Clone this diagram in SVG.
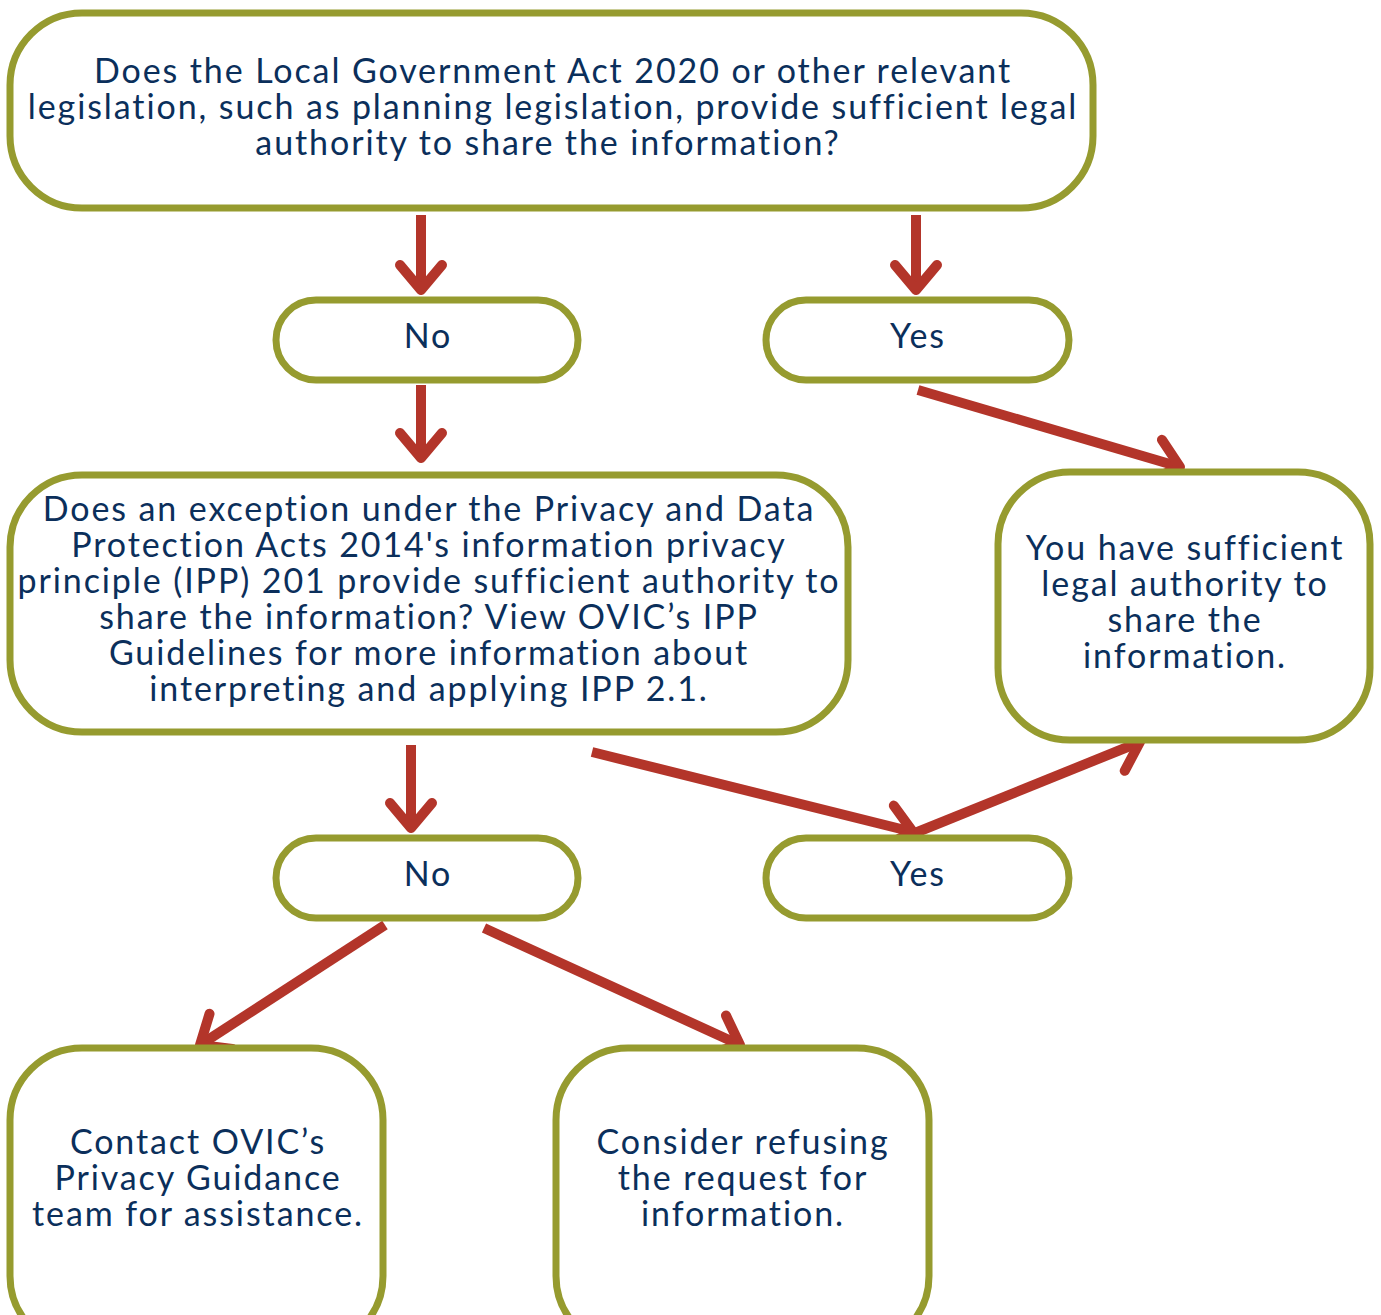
<svg xmlns="http://www.w3.org/2000/svg" width="1381" height="1315" viewBox="0 0 1381 1315">
<style>
.box{fill:#fff;stroke:#969B2F;stroke-width:7}
.t{font-family:Lato,"Noto Sans",sans-serif;font-size:34px;letter-spacing:1.9px;fill:#0B2F5B;text-anchor:middle}
.c{fill:none;stroke:#B3352A;stroke-width:10;stroke-linecap:butt}
</style>
<defs>
<marker id="ah" markerUnits="userSpaceOnUse" markerWidth="80" markerHeight="80" viewBox="-40 -40 80 80" refX="0" refY="0" orient="auto" overflow="visible">
<path d="M-25,-21 L0,0 L-25,21" fill="none" stroke="#B3352A" stroke-width="10" stroke-linecap="round" stroke-linejoin="round"/>
</marker>
</defs>
<rect width="1381" height="1315" fill="#fff"/>
<g id="connectors">
<line class="c" x1="421" y1="215" x2="421" y2="290" marker-end="url(#ah)"/>
<line class="c" x1="916" y1="215" x2="916" y2="290" marker-end="url(#ah)"/>
<line class="c" x1="421" y1="385" x2="421" y2="458" marker-end="url(#ah)"/>
<line class="c" x1="918" y1="390" x2="1180" y2="467" marker-end="url(#ah)"/>
<line class="c" x1="411" y1="745" x2="411" y2="828" marker-end="url(#ah)"/>
<line class="c" x1="592" y1="752" x2="913" y2="832" marker-end="url(#ah)"/>
<line class="c" x1="915" y1="833" x2="1140" y2="742" marker-end="url(#ah)"/>
<line class="c" x1="385" y1="925" x2="200" y2="1045" marker-end="url(#ah)"/>
<line class="c" x1="484" y1="928" x2="740" y2="1045" marker-end="url(#ah)"/>
</g>
<g id="q1">
<rect class="box" x="10" y="13" width="1083" height="195" rx="72"/>
<text class="t" x="553" y="83">Does the Local Government Act 2020 or other relevant</text>
<text class="t" x="553" y="119">legislation, such as planning legislation, provide sufficient legal</text>
<text class="t" x="548" y="155">authority to share the information?</text>
</g>
<g id="no1">
<rect class="box" x="276" y="300" width="302" height="80" rx="40"/>
<text class="t" x="428" y="348">No</text>
</g>
<g id="yes1">
<rect class="box" x="766" y="300" width="303" height="80" rx="40"/>
<text class="t" x="918" y="348">Yes</text>
</g>
<g id="q2">
<rect class="box" x="10" y="475" width="838" height="257" rx="72"/>
<text class="t" x="429" y="521">Does an exception under the Privacy and Data</text>
<text class="t" x="429" y="557">Protection Acts 2014's information privacy</text>
<text class="t" x="429" y="593">principle (IPP) 201 provide sufficient authority to</text>
<text class="t" x="429" y="629">share the information? View OVIC’s IPP</text>
<text class="t" x="429" y="665">Guidelines for more information about</text>
<text class="t" x="429" y="701">interpreting and applying IPP 2.1.</text>
</g>
<g id="authority">
<rect class="box" x="998" y="472" width="372" height="268" rx="72"/>
<text class="t" x="1185" y="560">You have sufficient</text>
<text class="t" x="1185" y="596">legal authority to</text>
<text class="t" x="1185" y="632">share the</text>
<text class="t" x="1185" y="668">information.</text>
</g>
<g id="no2">
<rect class="box" x="276" y="838" width="302" height="80" rx="40"/>
<text class="t" x="428" y="886">No</text>
</g>
<g id="yes2">
<rect class="box" x="766" y="838" width="303" height="80" rx="40"/>
<text class="t" x="918" y="886">Yes</text>
</g>
<g id="contact">
<rect class="box" x="10" y="1048" width="373" height="300" rx="72"/>
<text class="t" x="198" y="1154">Contact OVIC’s</text>
<text class="t" x="198" y="1190">Privacy Guidance</text>
<text class="t" x="198" y="1226">team for assistance.</text>
</g>
<g id="refuse">
<rect class="box" x="556" y="1048" width="373" height="300" rx="72"/>
<text class="t" x="743" y="1154">Consider refusing</text>
<text class="t" x="743" y="1190">the request for</text>
<text class="t" x="743" y="1226">information.</text>
</g>
</svg>
